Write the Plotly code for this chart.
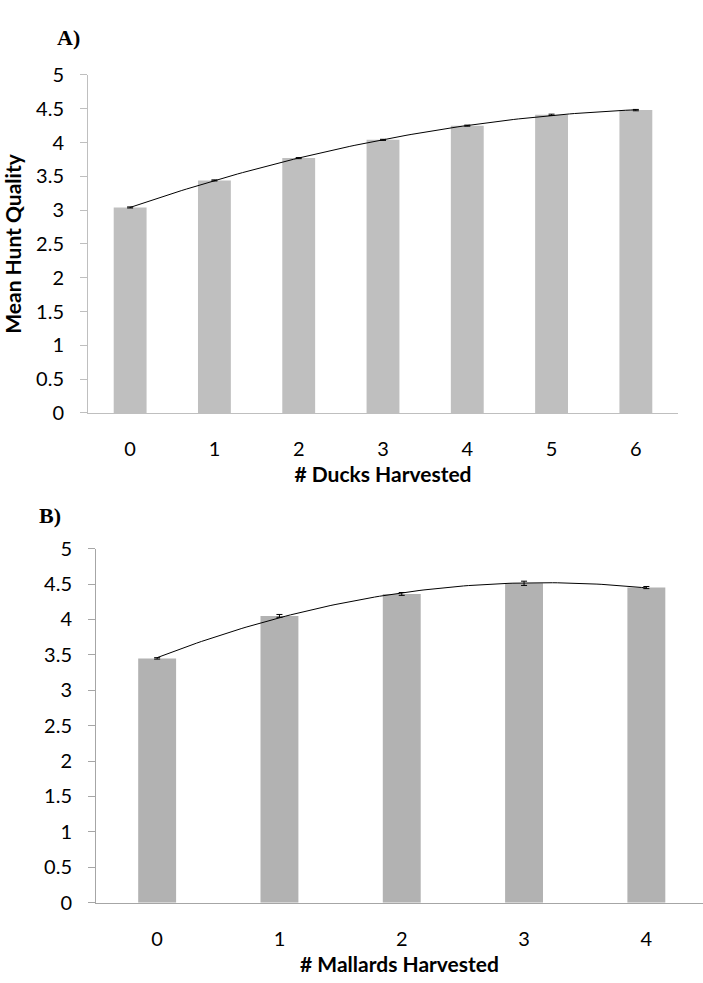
import numpy as np
import plotly.graph_objects as go

# Panel A data
ducks = [0, 1, 2, 3, 4, 5, 6]
ducks_mean = [3.04, 3.44, 3.77, 4.04, 4.25, 4.41, 4.48]
ducks_se = [0.008, 0.008, 0.008, 0.008, 0.008, 0.01, 0.01]

# Panel B data
mallards = [0, 1, 2, 3, 4]
mallards_mean = [3.45, 4.05, 4.36, 4.51, 4.45]
mallards_se = [0.01, 0.02, 0.02, 0.03, 0.015]

y_ticks = [0, 0.5, 1, 1.5, 2, 2.5, 3, 3.5, 4, 4.5, 5]
y_ticktext = ["0", "0.5", "1", "1.5", "2", "2.5", "3", "3.5", "4", "4.5", "5"]

FONT = "Lato"
W, H = 703, 983


def trend(x, y):
    c = np.polyfit(x, y, 2)
    xs = np.linspace(min(x), max(x), 100)
    return xs, np.polyval(c, xs)


fig = go.Figure()

# Panel A
fig.add_trace(go.Bar(x=ducks, y=ducks_mean, width=0.39, marker_color="#BFBFBF",
                     marker_line_width=0,
                     error_y=dict(type="data", array=ducks_se, color="black",
                                  thickness=1, width=3),
                     xaxis="x", yaxis="y", showlegend=False))
xa, ya = trend(ducks, ducks_mean)
fig.add_trace(go.Scatter(x=xa, y=ya, mode="lines", line=dict(color="black", width=1),
                         xaxis="x", yaxis="y", showlegend=False))

# Panel B
fig.add_trace(go.Bar(x=mallards, y=mallards_mean, width=0.31, marker_color="#B2B2B2",
                     marker_line_width=0,
                     error_y=dict(type="data", array=mallards_se, color="black",
                                  thickness=1, width=3),
                     xaxis="x2", yaxis="y2", showlegend=False))
xb, yb = trend(mallards, mallards_mean)
fig.add_trace(go.Scatter(x=xb, y=yb, mode="lines", line=dict(color="black", width=1),
                         xaxis="x2", yaxis="y2", showlegend=False))


def xd(a, b):
    return [a / W, b / W]


def yd(top, bottom):
    return [(H - bottom) / H, (H - top) / H]


ax_a_x = xd(88, 678)
ax_a_y = yd(63.5, 410)
ax_b_x = xd(96, 703)
ax_b_y = yd(549, 912)
rangeA = [-0.5, 6.5]
rangeB = [-0.5, -0.5 + 607 / 122.3]

tickfont = dict(family=FONT, size=20, color="black")
titlefont = dict(family=FONT, size=21, color="black", weight="bold")

common_y = dict(range=[0, 5], tickvals=y_ticks, ticktext=y_ticktext, ticks="outside",
                ticklen=7, showline=True, showgrid=False, zeroline=False,
                tickfont=tickfont, ticklabelstandoff=12)

fig.update_layout(
    width=W, height=H, margin=dict(l=0, r=0, t=0, b=0),
    plot_bgcolor="white", paper_bgcolor="white",
    xaxis=dict(domain=ax_a_x, anchor="y", range=rangeA, tickvals=ducks,
               ticktext=[str(v) for v in ducks], ticks="", showline=True,
               linecolor="#BFBFBF", showgrid=False, zeroline=False, tickfont=tickfont,
               ticklabelstandoff=18,
               title=dict(text="# Ducks Harvested", font=titlefont, standoff=8)),
    xaxis3=dict(domain=ax_a_x, anchor="y", overlaying="x", range=rangeA,
                tickvals=[v - 0.5 for v in ducks] + [ducks[-1] + 0.5], ticks="outside",
                ticklen=7, tickcolor="#BFBFBF", showticklabels=False, showline=False,
                showgrid=False, zeroline=False),
    yaxis=dict(domain=ax_a_y, anchor="x", linecolor="#BFBFBF", tickcolor="#BFBFBF",
               title=dict(text="Mean Hunt Quality", font=titlefont, standoff=12),
               **common_y),
    xaxis2=dict(domain=ax_b_x, anchor="y2", range=rangeB, tickvals=mallards,
                ticktext=[str(v) for v in mallards], ticks="", showline=True,
                linecolor="#A6A6A6", showgrid=False, zeroline=False, tickfont=tickfont,
                ticklabelstandoff=18,
                title=dict(text="# Mallards Harvested", font=titlefont, standoff=8)),
    xaxis4=dict(domain=ax_b_x, anchor="y2", overlaying="x2", range=rangeB,
                tickvals=[v - 0.5 for v in mallards] + [mallards[-1] + 0.5],
                ticks="outside", ticklen=7, tickcolor="#A6A6A6", showticklabels=False,
                showline=False, showgrid=False, zeroline=False),
    yaxis2=dict(domain=ax_b_y, anchor="x2", linecolor="#A6A6A6", tickcolor="#A6A6A6",
                **common_y),
    annotations=[
        dict(text="<b>A)</b>", x=55 / W, y=(H - 25) / H, xref="paper", yref="paper",
             xanchor="left", yanchor="middle", showarrow=False,
             font=dict(family="Liberation Serif", size=22, color="black")),
        dict(text="<b>B)</b>", x=37 / W, y=(H - 515) / H, xref="paper", yref="paper",
             xanchor="left", yanchor="middle", showarrow=False,
             font=dict(family="Liberation Serif", size=22, color="black")),
    ],
)

fig.write_html(
    "out.html",
    config={"displayModeBar": False},
    post_script=(
        "document.body.style.margin='0';document.body.style.padding='0';"
        "document.body.style.overflow='hidden';"
        "document.documentElement.style.overflow='hidden';"
    ),
)
